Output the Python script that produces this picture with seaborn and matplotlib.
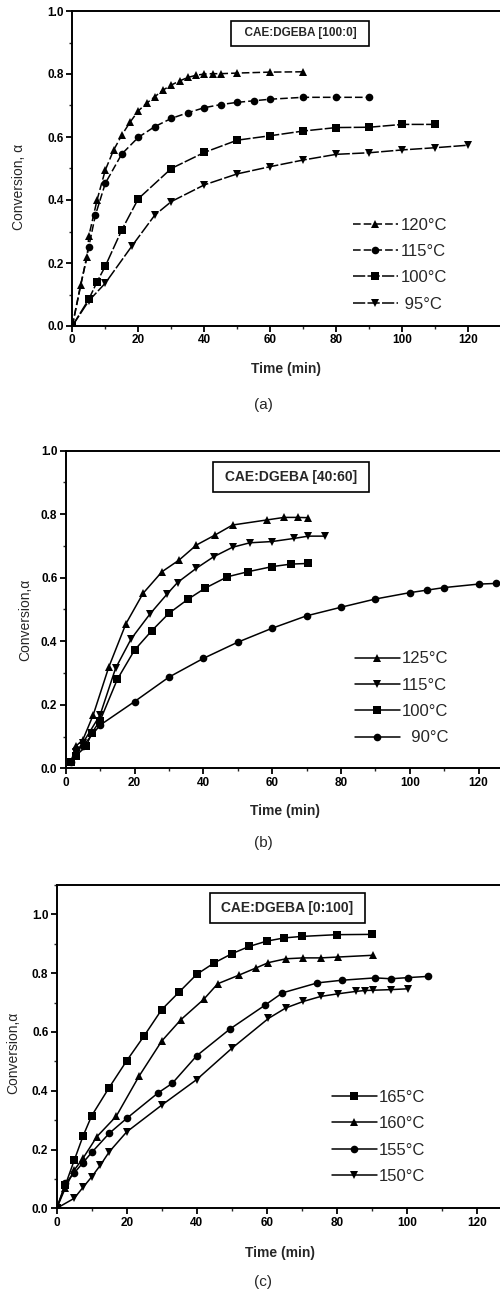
import matplotlib
matplotlib.use("Agg")
import matplotlib.pyplot as plt
import seaborn as sns
import pandas as pd
from matplotlib.ticker import MultipleLocator

# ---------------- data ----------------
# Panel (a) CAE:DGEBA [100:0]
a_t120 = [0, 2.5, 4.5, 5, 7.5, 10, 12.5, 15, 17.5, 20, 22.5, 25, 27.5, 30, 32.5, 35, 37.5, 40, 42.5, 45, 50, 60, 70]
a_y120 = [0, 0.13, 0.22, 0.285, 0.40, 0.495, 0.558, 0.606, 0.647, 0.683, 0.707, 0.728, 0.749, 0.765, 0.778, 0.789, 0.796, 0.800, 0.801, 0.801, 0.803, 0.806, 0.807]
a_t115 = [0, 5, 7, 10, 15, 20, 25, 30, 35, 40, 45, 50, 55, 60, 70, 80, 90]
a_y115 = [0, 0.252, 0.352, 0.453, 0.546, 0.599, 0.633, 0.659, 0.677, 0.693, 0.703, 0.710, 0.715, 0.720, 0.726, 0.726, 0.726]
a_t100 = [0, 5, 7.5, 10, 15, 20, 30, 40, 50, 60, 70, 80, 90, 100, 110]
a_y100 = [0, 0.085, 0.14, 0.19, 0.305, 0.404, 0.50, 0.551, 0.590, 0.604, 0.619, 0.630, 0.631, 0.640, 0.640]
a_t95 = [0, 5, 10, 18, 25, 30, 40, 50, 60, 70, 80, 90, 100, 110, 120]
a_y95 = [0, 0.08, 0.136, 0.253, 0.352, 0.395, 0.448, 0.483, 0.506, 0.527, 0.545, 0.550, 0.559, 0.566, 0.574]

# Panel (b) CAE:DGEBA [40:60]
b_t125 = [1.5, 3, 5, 8, 12.5, 17.5, 22.5, 28, 33, 38, 43.5, 48.5, 58.5, 63.5, 67.5, 70.5]
b_y125 = [0.02, 0.07, 0.09, 0.168, 0.318, 0.455, 0.551, 0.619, 0.656, 0.703, 0.735, 0.766, 0.782, 0.790, 0.790, 0.789]
b_t115 = [1.5, 3, 5, 10, 14.5, 19, 24.5, 29.5, 32.5, 38, 43, 48.5, 53.5, 60, 66.5, 70.5, 75.5]
b_y115 = [0.02, 0.05, 0.08, 0.168, 0.315, 0.407, 0.486, 0.549, 0.585, 0.630, 0.666, 0.696, 0.710, 0.714, 0.724, 0.731, 0.731]
b_t100 = [1.5, 3, 6, 7.5, 10, 15, 20, 25, 30, 35.5, 40.5, 47, 53, 60, 65.5, 70.5]
b_y100 = [0.02, 0.04, 0.07, 0.11, 0.15, 0.28, 0.372, 0.433, 0.488, 0.532, 0.567, 0.603, 0.619, 0.635, 0.643, 0.645]
b_t90 = [1.5, 3, 5, 10, 20, 30, 40, 50, 60, 70, 80, 90, 100, 105, 110, 120, 125]
b_y90 = [0.02, 0.06, 0.07, 0.136, 0.21, 0.287, 0.346, 0.397, 0.441, 0.480, 0.507, 0.533, 0.553, 0.561, 0.569, 0.580, 0.582]

# Panel (c) CAE:DGEBA [0:100]
c_t165 = [0, 2.5, 5, 7.5, 10, 15, 20, 25, 30, 35, 40, 45, 50, 55, 60, 65, 70, 80, 90]
c_y165 = [0, 0.08, 0.163, 0.245, 0.315, 0.411, 0.502, 0.587, 0.676, 0.736, 0.796, 0.835, 0.866, 0.891, 0.909, 0.920, 0.925, 0.931, 0.932]
c_t160 = [0, 2.5, 5, 7.5, 11.5, 17, 23.5, 30, 35.5, 42, 46, 52, 57, 60.5, 65.5, 70.5, 75.5, 80.5, 90.5]
c_y160 = [0, 0.07, 0.13, 0.17, 0.244, 0.313, 0.449, 0.569, 0.642, 0.711, 0.764, 0.793, 0.818, 0.836, 0.849, 0.852, 0.852, 0.855, 0.861]
c_t155 = [0, 2.5, 5, 7.5, 10, 15, 20, 29, 33, 40, 49.5, 59.5, 64.5, 74.5, 81.5, 91, 95.5, 100.5, 106]
c_y155 = [0, 0.085, 0.12, 0.155, 0.19, 0.255, 0.306, 0.393, 0.425, 0.519, 0.610, 0.691, 0.733, 0.767, 0.776, 0.784, 0.781, 0.785, 0.789]
c_t150 = [0, 5, 7.5, 10, 12.5, 15, 20, 30, 40, 50, 60.5, 65.5, 70.5, 75.5, 80.5, 85.5, 88, 90.5, 95.5, 100.5]
c_y150 = [0, 0.034, 0.071, 0.107, 0.147, 0.192, 0.26, 0.351, 0.438, 0.544, 0.646, 0.682, 0.704, 0.721, 0.730, 0.738, 0.741, 0.742, 0.744, 0.747]

a_labels = ["120°C", "115°C", "100°C", " 95°C"]
b_labels = ["125°C", "115°C", "100°C", "  90°C"]
c_labels = ["165°C", "160°C", "155°C", "150°C"]
titles = ["CAE:DGEBA [100:0]", "CAE:DGEBA [40:60]", "CAE:DGEBA [0:100]"]
panel_tags = ["(a)", "(b)", "(c)"]

# ---------------- style ----------------
sns.set_theme(style="ticks")
plt.rcParams["font.family"] = ["Liberation Sans", "DejaVu Sans"]

fig = plt.figure(figsize=(5.0, 12.92), dpi=100)
W, H = 500.0, 1292.0

def make_axes(left_px, top_px, bottom_px):
    return fig.add_axes([left_px / W, 1 - bottom_px / H, 1 - left_px / W, (bottom_px - top_px) / H])

ax_a = make_axes(72.3, 11, 326)
ax_b = make_axes(65.7, 450.7, 768.3)
ax_c = make_axes(56.7, 885, 1208.3)

series = [
    (ax_a, [(a_t120, a_y120, "^", (0, (5, 2))), (a_t115, a_y115, "o", (0, (5, 2))),
            (a_t100, a_y100, "s", (0, (8, 1.5))), (a_t95, a_y95, "v", (0, (8, 1.5)))], a_labels),
    (ax_b, [(b_t125, b_y125, "^", "-"), (b_t115, b_y115, "v", "-"),
            (b_t100, b_y100, "s", "-"), (b_t90, b_y90, "o", "-")], b_labels),
    (ax_c, [(c_t165, c_y165, "s", "-"), (c_t160, c_y160, "^", "-"),
            (c_t155, c_y155, "o", "-"), (c_t150, c_y150, "v", "-")], c_labels),
]

xlims = [(0, (W - 72.3) / 3.3), (0, (W - 65.7) / 3.44), (0, (W - 56.7) / 3.5)]
ylims = [(0, 1.0), (0, 1.0), (0, 1.1)]
title_pos = [(0.533, 0.93, 8.5, "  "), (0.519, 0.917, 10, " "), (0.52, 0.929, 10, " ")]
ylab = ["Conversion, α", "Conversion,α", "Conversion,α"]
ylab_pos = [(-0.109, 0.44), (-0.076, 0.467), (-0.082, 0.48)]
xlab_pos = [(0.50, -0.114), (0.505, -0.112), (0.504, -0.117)]
leg_anchor = [(0.656, 0.344), (0.665, 0.368), (0.62, 0.366)]
tag_y = [405, 843, 1282]

for i, (ax, lines, labels) in enumerate(series):
    for (t, y, m, ls), lab in zip(lines, labels):
        df = pd.DataFrame({"t": t, "y": y})
        sns.lineplot(data=df, x="t", y="y", ax=ax, estimator=None, sort=False,
                     color="black", marker=m, markersize=5.5, markeredgewidth=0,
                     linewidth=1.1, linestyle=ls, label=lab)
    ax.set_xlim(*xlims[i])
    ax.set_ylim(*ylims[i])
    ax.xaxis.set_major_locator(MultipleLocator(20))
    ax.xaxis.set_minor_locator(MultipleLocator(10))
    ax.yaxis.set_minor_locator(MultipleLocator(0.1))
    ax.set_yticks([0, 0.2, 0.4, 0.6, 0.8, 1.0])
    ax.set_yticklabels(["0.0", "0.2", "0.4", "0.6", "0.8", "1.0"])
    ax.tick_params(axis="both", which="major", direction="out", length=4, width=1.3,
                   labelsize=8.5, pad=2, colors="black")
    ax.tick_params(axis="both", which="minor", direction="out", length=2.5, width=1.0)
    for lbl in ax.get_xticklabels() + ax.get_yticklabels():
        lbl.set_fontweight("bold")
    for s in ["left", "bottom", "top"]:
        ax.spines[s].set_linewidth(1.4)
        ax.spines[s].set_color("black")
    ax.spines["right"].set_visible(False)
    ax.set_xlabel("Time (min)", fontsize=10, fontweight="bold")
    ax.set_ylabel(ylab[i], fontsize=10)
    ax.xaxis.set_label_coords(*xlab_pos[i])
    ax.yaxis.set_label_coords(*ylab_pos[i])
    tx, ty, fs, sp = title_pos[i]
    ax.text(tx, ty, sp + titles[i] + sp, transform=ax.transAxes, ha="center", va="center",
            fontsize=fs, fontweight="bold",
            bbox=dict(boxstyle="square,pad=0.55", fc="white", ec="black", lw=1.2))
    ax.legend(loc="upper left", bbox_to_anchor=leg_anchor[i], frameon=False,
              fontsize=12, handlelength=2.7, handletextpad=0.15, labelspacing=0.68,
              borderpad=0, borderaxespad=0)
    fig.text(263 / W, 1 - tag_y[i] / H, panel_tags[i], ha="center", va="center", fontsize=11)

fig.savefig("out.png", dpi=100, facecolor="white")
